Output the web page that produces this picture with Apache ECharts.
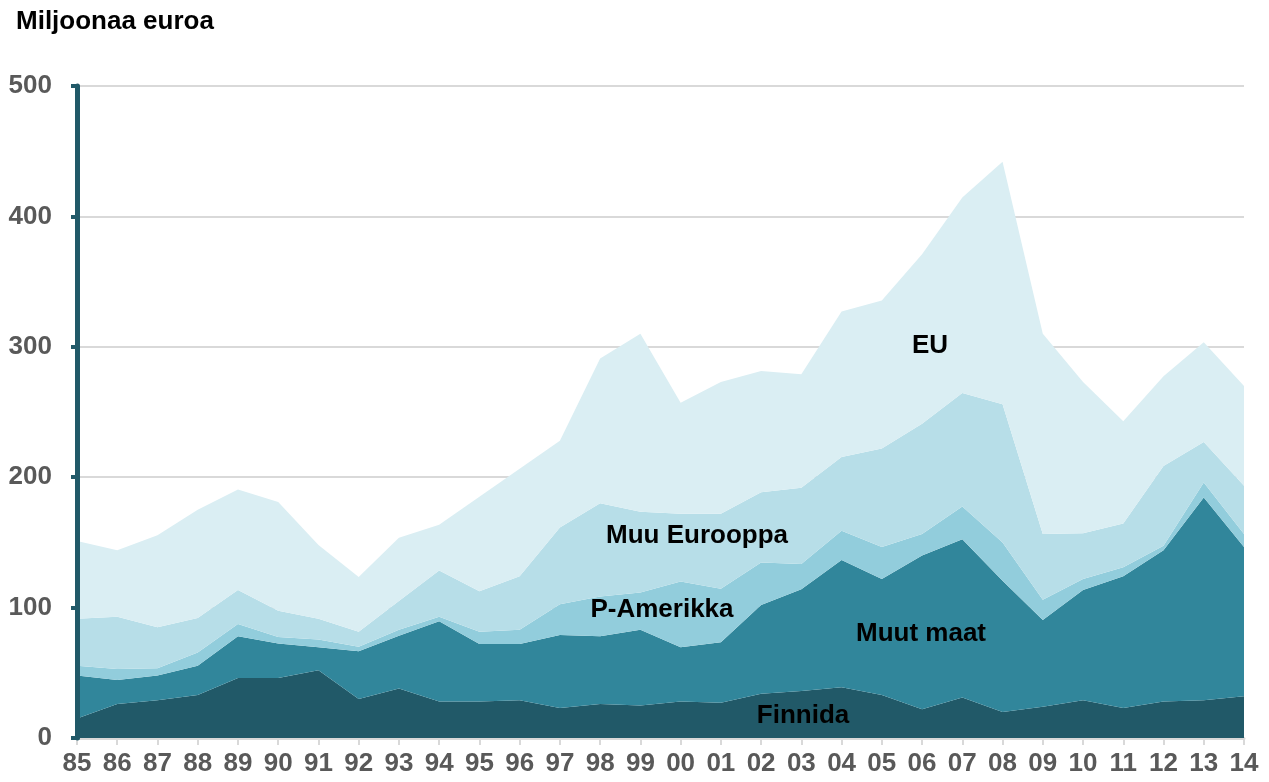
<!DOCTYPE html>
<html>
<head>
<meta charset="utf-8">
<script src="https://cdn.jsdelivr.net/npm/echarts/dist/echarts.min.js"></script>
<style>
html, body { margin: 0; padding: 0; background: #fff; }
#chart { width: 1269px; height: 782px; }
</style>
</head>
<body>
<div id="chart"></div>
<script>
var years = ['85', '86', '87', '88', '89', '90', '91', '92', '93', '94', '95', '96', '97', '98', '99',
    '00', '01', '02', '03', '04', '05', '06', '07', '08', '09', '10', '11', '12', '13', '14'];

// miljoonaa euroa, pinottuna alhaalta ylös
var finnida = [15, 26, 29, 33, 46, 46, 52, 30, 38, 28, 28, 29, 23, 26, 25,
    28, 27, 34, 36, 39, 33, 22, 31, 20, 24, 29, 23, 28, 29, 32];
var muutMaat = [33, 18.5, 19, 22.5, 32, 26.5, 17.5, 36.5, 40.5, 61.5, 44, 43, 56, 52, 58,
    41.5, 46.5, 68, 78, 97.5, 89, 118, 121.5, 100.5, 66.5, 84.5, 101, 116, 155.5, 114.5];
var pAmerikka = [7.5, 8.5, 5.5, 10, 9.5, 5, 6, 3.5, 4.5, 3.5, 9.5, 11, 23.5, 30.5, 28.5,
    50.5, 41, 32.5, 19.5, 22.5, 24.5, 16.5, 25, 29.5, 15.5, 8.5, 7, 3.5, 11.5, 10];
var muuEurooppa = [36, 40, 31.5, 26.5, 26, 20, 16, 11.5, 22, 35.5, 31, 41, 59, 71.5, 62,
    52, 57.5, 54, 58.5, 56.5, 75.5, 84.5, 87, 106, 50.5, 35, 33.5, 61, 31, 37];
var eu = [59.5, 51, 70.5, 83, 77, 83.5, 56.5, 42, 48.5, 35, 72.5, 82.5, 66.5, 111, 136.5,
    85, 101, 93, 87, 111.5, 113.5, 130, 150, 186, 153.5, 116, 78.5, 69, 76.5, 76.5];

var yTicks = [0, 100, 200, 300, 400, 500];

var font = '"Liberation Sans", Arial, sans-serif';

function area(name, data, color) {
    return {
        name: name,
        type: 'line',
        stack: 'kaikki',
        data: data,
        symbol: 'none',
        lineStyle: { width: 0 },
        areaStyle: { color: color, opacity: 1 },
        itemStyle: { color: color }
    };
}

function label(text, x, y) {
    return {
        type: 'text', x: x, y: y, z: 100,
        style: { text: text, fill: '#000', font: 'bold 26px ' + font, align: 'center', verticalAlign: 'middle' }
    };
}

var chart = echarts.init(document.getElementById('chart'));
var option = {
    animation: false,
    backgroundColor: '#ffffff',
    grid: { left: 77, right: 25, top: 86, bottom: 44 },
    xAxis: {
        type: 'category',
        data: years,
        boundaryGap: false,
        axisLine: { lineStyle: { color: '#d9d9d9', width: 3 } },
        axisTick: { show: true, interval: 0, length: 7, lineStyle: { color: '#d9d9d9', width: 2 } },
        axisLabel: {
            interval: 0, margin: 13,
            color: '#595959', fontSize: 26, fontWeight: 'bold', fontFamily: font
        },
        splitLine: { show: false }
    },
    yAxis: [
        {   // ruudukko ja luvut, alueiden takana
            type: 'value',
            min: yTicks[0],
            max: yTicks[yTicks.length - 1],
            interval: 100,
            axisLine: { show: false },
            axisTick: { show: false },
            axisLabel: {
                margin: 25,
                color: '#595959', fontSize: 26, fontWeight: 'bold', fontFamily: font
            },
            splitLine: { lineStyle: { color: '#d9d9d9', width: 2 } }
        },
        {   // paksu akseliviiva alueiden päällä
            type: 'value',
            position: 'left',
            min: yTicks[0],
            max: yTicks[yTicks.length - 1],
            interval: 100,
            z: 10,
            axisLine: { show: true, lineStyle: { color: '#215968', width: 5 } },
            axisTick: { show: true, length: 6, lineStyle: { color: '#215968', width: 4 } },
            axisLabel: { show: false },
            splitLine: { show: false }
        }
    ],
    series: [
        area('Finnida', finnida, '#215968'),
        area('Muut maat', muutMaat, '#31869b'),
        area('P-Amerikka', pAmerikka, '#92cddc'),
        area('Muu Eurooppa', muuEurooppa, '#b7dee8'),
        area('EU', eu, '#daeef3')
    ],
    graphic: [
        { type: 'text', left: 16, top: 9, z: 100,
          style: { text: 'Miljoonaa euroa', fill: '#000', font: 'bold 26px ' + font } },
        label('EU', 930, 346),
        label('Muu Eurooppa', 697, 536),
        label('P-Amerikka', 662, 610),
        label('Muut maat', 921, 634),
        label('Finnida', 803, 716)
    ]
};
chart.setOption(option);
</script>
</body>
</html>
